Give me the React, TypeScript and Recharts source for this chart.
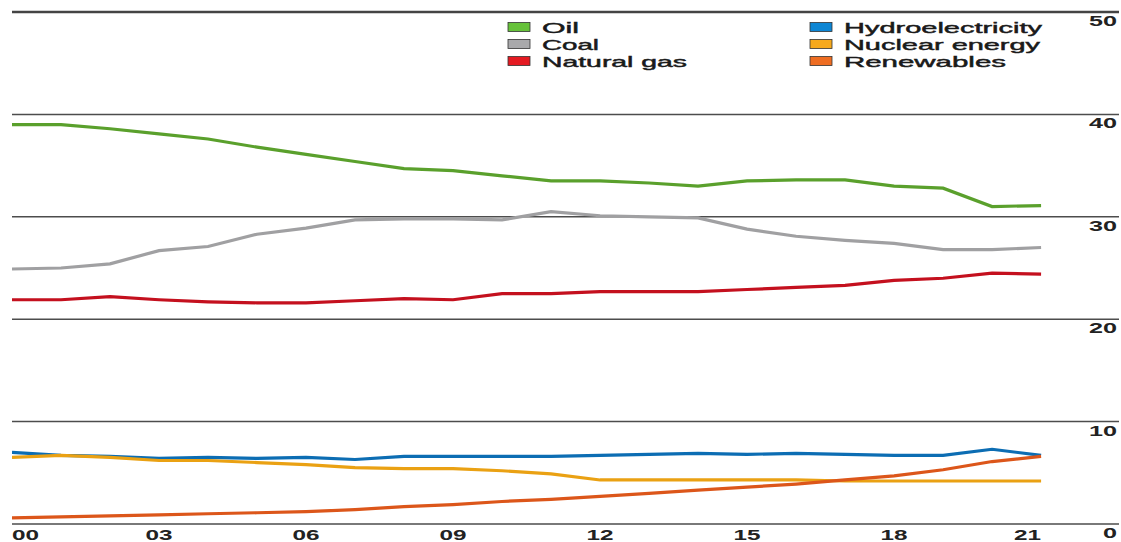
import React from 'react';
import { LineChart, Line, XAxis, YAxis, CartesianGrid, ReferenceLine } from 'recharts';

// Share of primary energy, % (2000–2021)
const years = [2000, 2001, 2002, 2003, 2004, 2005, 2006, 2007, 2008, 2009, 2010, 2011, 2012, 2013, 2014, 2015, 2016, 2017, 2018, 2019, 2020, 2021];
const oil = [39.0, 39.0, 38.6, 38.1, 37.6, 36.8, 36.1, 35.4, 34.7, 34.5, 34.0, 33.5, 33.5, 33.3, 33.0, 33.5, 33.6, 33.6, 33.0, 32.8, 31.0, 31.1];
const coal = [24.9, 25.0, 25.4, 26.7, 27.1, 28.3, 28.9, 29.7, 29.8, 29.8, 29.7, 30.5, 30.1, 30.0, 29.9, 28.8, 28.1, 27.7, 27.4, 26.8, 26.8, 27.0];
const gas = [21.9, 21.9, 22.2, 21.9, 21.7, 21.6, 21.6, 21.8, 22.0, 21.9, 22.5, 22.5, 22.7, 22.7, 22.7, 22.9, 23.1, 23.3, 23.8, 24.0, 24.5, 24.4];
const hydro = [7.0, 6.7, 6.6, 6.4, 6.5, 6.4, 6.5, 6.3, 6.6, 6.6, 6.6, 6.6, 6.7, 6.8, 6.9, 6.8, 6.9, 6.8, 6.7, 6.7, 7.3, 6.7];
const nuclear = [6.5, 6.7, 6.5, 6.2, 6.2, 6.0, 5.8, 5.5, 5.4, 5.4, 5.2, 4.9, 4.3, 4.3, 4.3, 4.3, 4.3, 4.2, 4.2, 4.2, 4.2, 4.2];
const renewables = [0.6, 0.7, 0.8, 0.9, 1.0, 1.1, 1.2, 1.4, 1.7, 1.9, 2.2, 2.4, 2.7, 3.0, 3.3, 3.6, 3.9, 4.3, 4.7, 5.3, 6.1, 6.6];

const xTicks = [2000, 2003, 2006, 2009, 2012, 2015, 2018, 2021];
const yTicks = [0, 10, 20, 30, 40, 50];

const series = [
  { key: 'oil', name: 'Oil', values: oil, line: '#5aa02c', swatch: '#66c23a', col: 0, textW: 37 },
  { key: 'coal', name: 'Coal', values: coal, line: '#a0a0a2', swatch: '#a9a9ab', col: 0, textW: 57 },
  { key: 'gas', name: 'Natural gas', values: gas, line: '#c4101e', swatch: '#e41a22', col: 0, textW: 145 },
  { key: 'hydro', name: 'Hydroelectricity', values: hydro, line: '#0c6db3', swatch: '#0d86d4', col: 1, textW: 198 },
  { key: 'nuclear', name: 'Nuclear energy', values: nuclear, line: '#eaa113', swatch: '#f6a91c', col: 1, textW: 196 },
  { key: 'renewables', name: 'Renewables', values: renewables, line: '#dc561a', swatch: '#ee6d22', col: 1, textW: 162 },
];

const data = years.map((year, i) => {
  const row: Record<string, number> = { year };
  series.forEach((s) => {
    row[s.key] = s.values[i];
  });
  return row;
});

const W = 1121;
const H = 542;
const FONT = '"Liberation Sans", Arial, sans-serif';

const XTick = (props: any) => {
  const { x, payload, index } = props;
  const last = index === xTicks.length - 1;
  const anchor = index === 0 ? 'start' : last ? 'end' : 'middle';
  const label = String(payload.value).slice(2);
  return (
    <text x={x} y={540} textAnchor={anchor} fontFamily={FONT} fontSize={14} fontWeight="bold"
      fill="#222" textLength={27} lengthAdjust="spacingAndGlyphs">
      {label}
    </text>
  );
};

const YTick = (props: any) => {
  const { y, payload } = props;
  const label = String(payload.value);
  return (
    <text x={1117} y={y + 14} textAnchor="end" fontFamily={FONT} fontSize={14} fontWeight="bold"
      fill="#222" textLength={label.length * 14} lengthAdjust="spacingAndGlyphs">
      {label}
    </text>
  );
};

const LegendBox = () => (
  <svg width={W} height={80} style={{ position: 'absolute', left: 0, top: 0 }}>
    {series.map((s, i) => {
      const row = i % 3;
      const cy = 27 + row * 17;
      const sx = s.col === 0 ? 508 : 810;
      return (
        <g key={s.key}>
          <rect x={sx} y={cy - 4.5} width={22} height={9} fill={s.swatch} stroke="#333" strokeWidth={0.8} />
          <text x={sx + 34} y={cy + 5.5} fontFamily={FONT} fontSize={15} fill="#1a1a1a"
            stroke="#1a1a1a" strokeWidth={0.45} textLength={s.textW} lengthAdjust="spacingAndGlyphs">
            {s.name}
          </text>
        </g>
      );
    })}
  </svg>
);

export default function App() {
  return (
    <div style={{ position: 'absolute', left: 0, top: 0, width: W, height: H, background: '#fff' }}>
      <LineChart width={W} height={H} data={data} margin={{ top: 12, right: 0, bottom: 0, left: 12 }}>
        <CartesianGrid horizontal vertical={false} stroke="#4d4d4d" strokeWidth={1.5} />
        <XAxis dataKey="year" type="number" domain={[2000, 2022.59]} ticks={xTicks} allowDataOverflow
          axisLine={false} tickLine={false} height={18} tick={<XTick />} interval={0} />
        <YAxis orientation="right" domain={[0, 50]} ticks={yTicks} width={2} axisLine={false}
          tickLine={false} tick={<YTick />} interval={0} />
        <ReferenceLine y={50} stroke="#444" strokeWidth={2.5} />
        {series.map((s) => (
          <Line key={s.key} dataKey={s.key} name={s.name} stroke={s.line} strokeWidth={3.2}
            dot={false} type="linear" isAnimationActive={false} />
        ))}
      </LineChart>
      <LegendBox />
    </div>
  );
}
